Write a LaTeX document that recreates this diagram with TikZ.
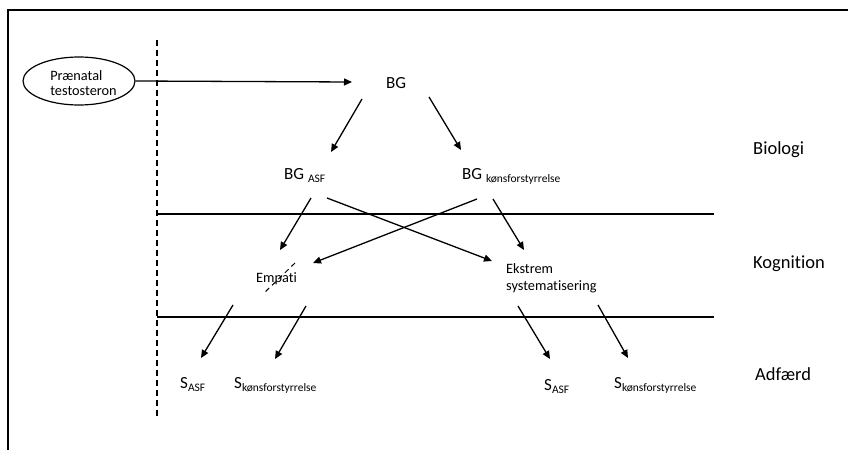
\documentclass[tikz,border=0pt]{standalone}
\usepackage{fontspec}
\setmainfont{Carlito}[Ligatures=NoCommon]
\usetikzlibrary{arrows.meta,shapes.geometric}
\newcommand\subtx[1]{\raisebox{-3pt}{\fontsize{11.5}{12}\selectfont #1}}
\begin{document}
\begin{tikzpicture}[x=1pt,y=-1pt,
  arr/.style={line width=1.3pt,-{Triangle[length=8pt,width=7pt]}},
  lbl/.style={inner sep=0,anchor=base west,font=\fontsize{14.3}{16}\selectfont},
  big/.style={inner sep=0,anchor=base west,font=\fontsize{18.5}{22}\selectfont},
  mid/.style={inner sep=0,anchor=base west,font=\fontsize{17}{20}\selectfont},
  rule/.style={line width=1.5pt},
]
\useasboundingbox (0,0) rectangle (848,450);
\fill[white] (0,0) rectangle (848,450);
% frame
\draw[line width=1.6pt] (848,10) -- (8,10) -- (8,450);
% dashed vertical line
\draw[line width=1.2pt, dash pattern=on 6pt off 4pt] (157,40) -- (157,416);
% horizontal rules
\draw[rule] (157,214) -- (714,214);
\draw[rule] (157,317) -- (714,317);

% nodes
\node[draw, ellipse, line width=1.2pt, minimum width=112pt, minimum height=48pt, inner sep=0] (pt) at (79,81) {};
\node[inner sep=0, align=left, font=\fontsize{14.3}{15.5}\selectfont] (ptt) at (83.5,83) {Prænatal\\testosteron};
\node[mid] (bg) at (386,88) {BG};
\node[mid] (bgasf) at (284,179) {BG \subtx{ASF}};
\node[mid] (bgkon) at (462,179) {BG \subtx{kønsforstyrrelse}};
\node[big] (bio) at (753,154) {Biologi};
\node[big] (kog) at (753,268) {Kognition};
\node[big] (adf) at (755,380) {Adfærd};
\node[lbl] (emp) at (256,282) {Empati};
\node[lbl] (eks) at (506,273) {Ekstrem};
\node[lbl] (eks2) at (506,290) {systematisering};
\node[mid] (s1) at (180,388) {S\subtx{ASF}};
\node[mid] (s2) at (234,388) {S\subtx{kønsforstyrrelse}};
\node[mid] (s3) at (544,390) {S\subtx{ASF}};
\node[mid] (s4) at (614,388) {S\subtx{kønsforstyrrelse}};

% connector end points
\coordinate (a1e) at (352,82);
\coordinate (a2s) at (362,99);  \coordinate (a2e) at (331,152);
\coordinate (a3s) at (429,97);  \coordinate (a3e) at (461,150);
\coordinate (a4s) at (311,198); \coordinate (a4e) at (280,250);
\coordinate (a5s) at (327,198); \coordinate (a5e) at (492,261);
\coordinate (a6s) at (477,199); \coordinate (a6e) at (313,263);
\coordinate (a7s) at (493,199); \coordinate (a7e) at (524,250);
\coordinate (a8s) at (233,305); \coordinate (a8e) at (201,358);
\coordinate (a9s) at (306,306); \coordinate (a9e) at (275,359);
\coordinate (a10s) at (518,306); \coordinate (a10e) at (550,359);
\coordinate (a11s) at (598,305); \coordinate (a11e) at (628,358);

% connectors
\draw[arr] (pt.east) -- (a1e);
\draw[arr] (a2s) -- (a2e);
\draw[arr] (a3s) -- (a3e);
\draw[arr] (a4s) -- (a4e);
\draw[arr] (a5s) -- (a5e);
\draw[arr] (a6s) -- (a6e);
\draw[arr] (a7s) -- (a7e);
\draw[arr] (a8s) -- (a8e);
\draw[arr] (a9s) -- (a9e);
\draw[arr] (a10s) -- (a10e);
\draw[arr] (a11s) -- (a11e);

% dashed strike through Empati
\draw[line width=1pt, dash pattern=on 5pt off 4pt] (295,263) -- (263,294);
\end{tikzpicture}
\end{document}
